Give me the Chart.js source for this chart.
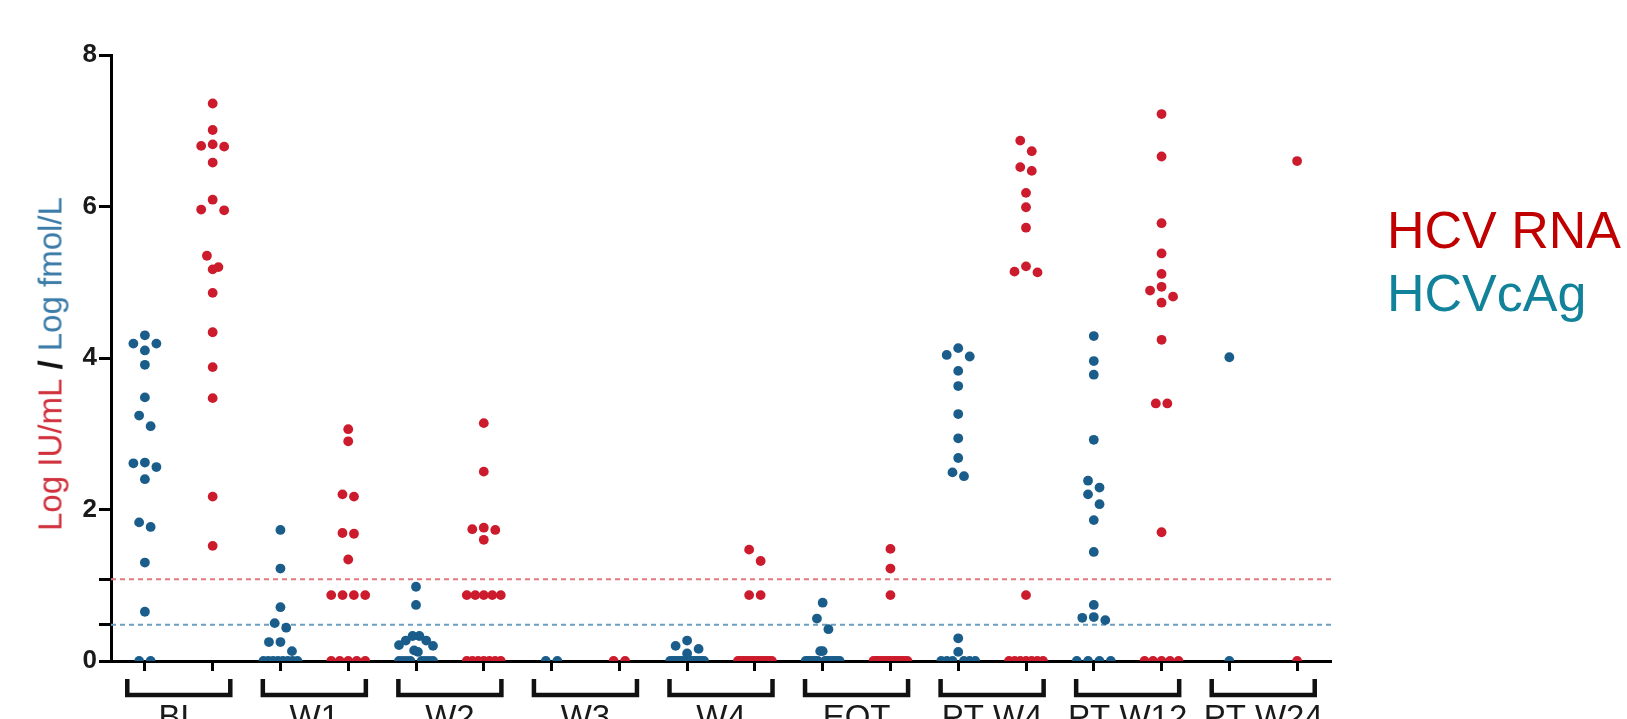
<!DOCTYPE html>
<html>
<head>
<meta charset="utf-8">
<script src="https://cdn.jsdelivr.net/npm/chart.js@4.4.1/dist/chart.umd.min.js"></script>
<style>
  body { margin: 0; background: #fff; }
  #wrap { position: relative; width: 1627px; height: 719px; overflow: hidden; font-family: "Liberation Sans", Arial, sans-serif; }
  #chart { position: absolute; left: 0; top: 0; }
  .legend { position: absolute; left: 1387px; font-size: 52px; line-height: 52px; white-space: nowrap; }
  #ytitle { position: absolute; left: 50px; top: 364px; transform: translate(-50%, -50%) rotate(-90deg); font-size: 33px; line-height: 33px; white-space: nowrap; }
</style>
</head>
<body>
<div id="wrap">
  <canvas id="chart" width="1627" height="719"></canvas>
  <div class="legend" style="top:204px;color:#c00000">HCV RNA</div>
  <div class="legend" style="top:267px;color:#12829a">HCVcAg</div>
  <div id="ytitle"><span style="color:#d0303c">Log IU/mL</span><b style="color:#111"> / </b><span style="color:#3b7ba8">Log fmol/L</span></div>
</div>
<script>
// time points, one pair of columns each (HCVcAg left, HCV RNA right)
const groups = ["BL", "W1", "W2", "W3", "W4", "EOT", "PT W4", "PT W12", "PT W24"];

// HCVcAg, log fmol/L
const cagValues = [
  [4.30, 4.19, 4.19, 4.10, 3.91, 3.48, 3.24, 3.10, 2.62, 2.61, 2.56, 2.40, 1.83, 1.77, 1.30, 0.65, 0, 0],
  [1.73, 1.22, 0.71, 0.50, 0.44, 0.25, 0.25, 0.13, 0, 0, 0, 0, 0, 0, 0, 0],
  [0.98, 0.74, 0.33, 0.33, 0.27, 0.27, 0.21, 0.20, 0.14, 0.12, 0, 0, 0, 0, 0, 0, 0, 0],
  [0, 0],
  [0.27, 0.20, 0.16, 0.10, 0, 0, 0, 0, 0, 0, 0, 0, 0, 0, 0, 0, 0, 0],
  [0.77, 0.56, 0.42, 0.13, 0.13, 0, 0, 0, 0, 0, 0, 0, 0, 0, 0, 0, 0, 0],
  [4.13, 4.04, 4.02, 3.83, 3.63, 3.26, 2.94, 2.68, 2.49, 2.44, 0.30, 0.12, 0, 0, 0, 0, 0, 0],
  [4.29, 3.96, 3.78, 2.92, 2.38, 2.29, 2.20, 2.07, 1.86, 1.44, 0.74, 0.58, 0.57, 0.54, 0, 0, 0, 0],
  [4.01, 0]
];

// HCV RNA, log IU/mL
const rnaValues = [
  [7.36, 7.01, 6.82, 6.80, 6.79, 6.58, 6.09, 5.96, 5.95, 5.35, 5.20, 5.17, 4.86, 4.34, 3.88, 3.47, 2.17, 1.52],
  [3.06, 2.90, 2.20, 2.17, 1.69, 1.68, 1.34, 0.87, 0.87, 0.87, 0.87, 0, 0, 0, 0, 0],
  [3.14, 2.50, 1.76, 1.74, 1.73, 1.60, 0.87, 0.87, 0.87, 0.87, 0.87, 0, 0, 0, 0, 0, 0, 0],
  [0, 0],
  [1.47, 1.32, 0.87, 0.87, 0, 0, 0, 0, 0, 0, 0, 0, 0, 0, 0, 0, 0, 0],
  [1.48, 1.22, 0.87, 0, 0, 0, 0, 0, 0, 0, 0, 0, 0, 0, 0, 0, 0, 0],
  [6.87, 6.73, 6.52, 6.47, 6.18, 5.99, 5.72, 5.21, 5.14, 5.13, 0.87, 0, 0, 0, 0, 0, 0, 0],
  [7.22, 6.66, 5.78, 5.38, 5.11, 4.94, 4.89, 4.81, 4.73, 4.24, 3.40, 3.40, 1.70, 0, 0, 0, 0, 0],
  [6.60, 0]
];

const yTickLabels = [0, 2, 4, 6, 8];
const rnaLloq = 1.08; // log 12 IU/mL
const cagLloq = 0.48; // log 3 fmol/L

const RED = "#cc1b2c";
const BLUE = "#1b5d8a";
const DOT_GAP = 11.5; // px between dot centres in one row
const MAX_ROW = 34;   // widest a row of dots may get, px

// Prism-like column scatter: near values go in a row, centred on the column
function swarm(values, col, xs, ys) {
  const unit = xs.getPixelForValue(1) - xs.getPixelForValue(0);
  const sorted = values.slice().sort((a, b) => b - a);
  const rows = [];
  sorted.forEach(v => {
    const py = ys.getPixelForValue(v);
    const row = rows[rows.length - 1];
    if (row && Math.abs(py - row.py) < DOT_GAP) row.items.push(v);
    else rows.push({ py, items: [v] });
  });
  const pts = [];
  rows.forEach(row => {
    const n = row.items.length;
    const step = n > 1 ? Math.min(DOT_GAP, MAX_ROW / (n - 1)) : 0;
    const slots = [];
    for (let i = 0; i < n; i++) slots.push((i - (n - 1) / 2) * step);
    slots.sort((a, b) => Math.abs(a) - Math.abs(b) || a - b);
    row.items.forEach((v, i) => pts.push({ x: col + slots[i] / unit, y: v }));
  });
  return pts;
}

const bracketPlugin = {
  id: "brackets",
  afterDraw(chart) {
    const { ctx, chartArea, scales: { x } } = chart;
    const top = chartArea.bottom + 18;
    const bottom = chartArea.bottom + 34;
    ctx.save();
    ctx.strokeStyle = "#111";
    ctx.lineWidth = 4.5;
    ctx.fillStyle = "#1a1a1a";
    ctx.font = '33px "Liberation Sans", Arial, sans-serif';
    ctx.textAlign = "center";
    groups.forEach((g, i) => {
      const l = x.getPixelForValue(2 * i - 0.26);
      const r = x.getPixelForValue(2 * i + 1.26);
      ctx.beginPath();
      ctx.moveTo(l, top);
      ctx.lineTo(l, bottom);
      ctx.lineTo(r, bottom);
      ctx.lineTo(r, top);
      ctx.stroke();
      ctx.fillText(g, (l + r) / 2, chartArea.bottom + 67);
    });
    ctx.restore();
  }
};

const nCols = groups.length * 2;

const chart = new Chart(document.getElementById("chart"), {
  type: "scatter",
  data: {
    datasets: [
      { label: "HCVcAg", data: [], backgroundColor: BLUE, pointRadius: 4.9, pointBorderWidth: 0, order: 1 },
      { label: "HCV RNA", data: [], backgroundColor: RED, pointRadius: 4.9, pointBorderWidth: 0, order: 1 },
      {
        data: [{ x: -0.5, y: rnaLloq }, { x: nCols - 0.5, y: rnaLloq }],
        showLine: true, pointRadius: 0, borderColor: "#e37880", borderWidth: 2, borderDash: [5, 4], order: 2
      },
      {
        data: [{ x: -0.5, y: cagLloq }, { x: nCols - 0.5, y: cagLloq }],
        showLine: true, pointRadius: 0, borderColor: "#6c9ec2", borderWidth: 2, borderDash: [5, 4], order: 2
      }
    ]
  },
  options: {
    responsive: false,
    animation: false,
    layout: { padding: { left: 0, top: 55, right: 296, bottom: 0 } },
    plugins: { legend: { display: false }, tooltip: { enabled: false } },
    scales: {
      x: {
        type: "linear",
        min: -0.5,
        max: nCols - 0.5,
        afterBuildTicks: s => { s.ticks = Array.from({ length: nCols }, (_, i) => ({ value: i })); },
        afterFit: s => { s.height = 58; },
        ticks: { display: false },
        grid: { drawOnChartArea: false, tickLength: 10, tickWidth: 3, tickColor: "#000" },
        border: { width: 3, color: "#000" }
      },
      y: {
        min: 0,
        max: 8,
        afterBuildTicks: s => {
          s.ticks = [...yTickLabels, cagLloq, rnaLloq].sort((a, b) => a - b).map(v => ({ value: v }));
        },
        afterFit: s => { s.width = 111; },
        ticks: {
          padding: 2,
          color: "#1a1a1a",
          font: { family: '"Liberation Sans", Arial, sans-serif', size: 26, weight: "bold" },
          callback: v => (yTickLabels.includes(v) ? String(v) : "")
        },
        grid: { drawOnChartArea: false, tickLength: 12, tickWidth: 3, tickColor: "#000" },
        border: { width: 3, color: "#000" }
      }
    }
  },
  plugins: [bracketPlugin]
});

chart.data.datasets[0].data = cagValues.flatMap((vals, i) => swarm(vals, 2 * i, chart.scales.x, chart.scales.y));
chart.data.datasets[1].data = rnaValues.flatMap((vals, i) => swarm(vals, 2 * i + 1, chart.scales.x, chart.scales.y));
chart.update();
</script>
</body>
</html>
